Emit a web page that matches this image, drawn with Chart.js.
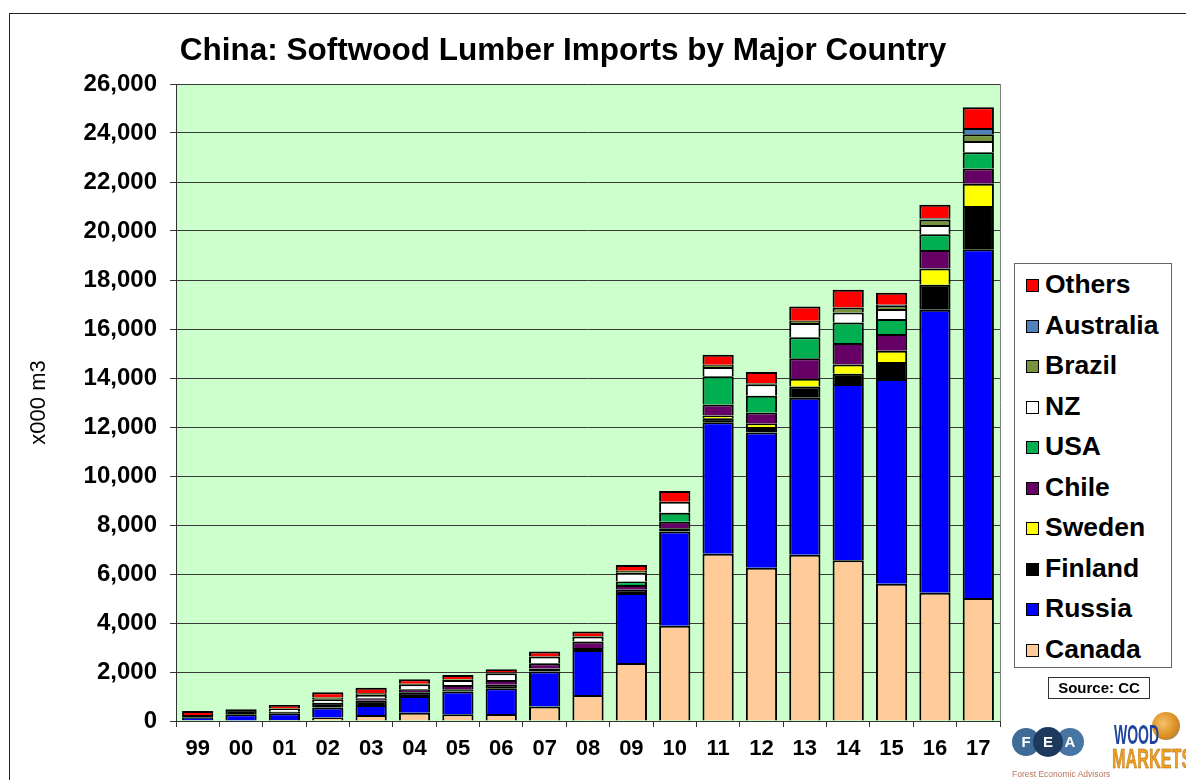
<!DOCTYPE html>
<html>
<head>
<meta charset="utf-8">
<script src="https://cdn.jsdelivr.net/npm/chart.js@4.4.0/dist/chart.umd.min.js"></script>
<style>
    body { margin: 0; background: #fff; font-family: "Liberation Sans", Arial, sans-serif; }
    #contenedor { position: relative; width: 1186px; height: 780px; overflow: hidden; }
    #marco { position: absolute; left: 9px; top: 13px; right: -10px; bottom: -10px; border-left: 1px solid #222; border-top: 1px solid #222; }
    #GraficoImportaciones { position: absolute; left: 0; top: 0; }
    #titulo { position: absolute; left: 0; top: 31px; width: 1126px; text-align: center; font-weight: bold; font-size: 31.5px; color: #000; }
    #leyenda { position: absolute; left: 1014px; top: 263px; width: 158px; height: 405px; border: 1px solid #666; background: #fff; box-sizing: border-box; }
    .item { height: 40.56px; line-height: 40.56px; white-space: nowrap; font-weight: bold; font-size: 26.5px; }
    .cuadro { display: inline-block; width: 11px; height: 11px; border: 1px solid #000; margin-left: 11px; margin-right: 6px; vertical-align: 1px; }
    #fuente { position: absolute; left: 1048px; top: 677px; width: 102px; height: 22px; border: 1px solid #333; box-sizing: border-box; text-align: center; line-height: 20px; font-weight: bold; font-size: 15px; }
    .circulo { position: absolute; width: 28px; height: 28px; border-radius: 50%; color: #fff; font-weight: bold; font-size: 15px; text-align: center; line-height: 28px; }
    #fea { position: absolute; left: 1012px; top: 769px; font-size: 8.5px; color: #b8735a; white-space: nowrap; }
    #globo { position: absolute; left: 1152px; top: 712px; width: 28px; height: 28px; border-radius: 50%; background: radial-gradient(circle at 40% 40%, #f6c26a, #d98a1c 60%, #5a7fb5); }
    #wood { position: absolute; left: 1114px; top: 719px; font-weight: bold; font-size: 28px; color: #1f45a0; transform: scaleX(0.5); transform-origin: left; }
    #markets { position: absolute; left: 1112px; top: 743px; font-weight: bold; font-size: 28px; color: #f0a020; transform: scaleX(0.58); transform-origin: left; -webkit-text-stroke: 0.5px #a0600a; }
</style>
</head>
<body>
<div id="contenedor">
    <div id="marco"></div>
    <canvas id="GraficoImportaciones" width="1186" height="780"></canvas>
    <div id="titulo">China: Softwood Lumber Imports by Major Country</div>
    <div id="leyenda"></div>
    <div id="fuente">Source: CC</div>
    <div class="circulo" style="left:1012px;top:728px;background:#3f6b98;">F</div>
    <div class="circulo" style="left:1056px;top:728px;background:#4776a4;">A</div>
    <div class="circulo" style="left:1033px;top:727px;width:30px;height:30px;line-height:30px;background:#1d3a5e;">E</div>
    <div id="fea">Forest Economic Advisors</div>
    <div id="globo"></div>
    <div id="wood">WOOD</div>
    <div id="markets">MARKETS</div>
</div>

<script>
// miles de m3 por año y país de origen
let anios = ["99", "00", "01", "02", "03", "04", "05", "06", "07", "08", "09", "10", "11", "12", "13", "14", "15", "16", "17"];

let canada    = [30, 20, 40, 140, 245, 340, 275, 290, 590, 1065, 2370, 3890, 6830, 6260, 6790, 6560, 5600, 5235, 5020];
let rusia     = [120, 260, 275, 410, 410, 680, 925, 1045, 1430, 1835, 2850, 3840, 5360, 5520, 6400, 7200, 8360, 11555, 14240];
let finlandia = [100, 200, 60, 200, 170, 150, 100, 140, 120, 80, 135, 135, 165, 220, 460, 410, 690, 1020, 1760];
let suecia    = [0, 0, 0, 0, 0, 0, 0, 0, 0, 0, 0, 0, 110, 135, 315, 380, 460, 660, 905];
let chile     = [0, 0, 0, 0, 100, 125, 170, 200, 220, 260, 200, 270, 450, 460, 840, 880, 690, 755, 625];
let eeuu      = [0, 0, 0, 0, 0, 0, 0, 0, 0, 0, 135, 365, 1155, 680, 855, 840, 610, 640, 660];
let nz        = [0, 0, 140, 135, 136, 200, 205, 270, 270, 205, 365, 450, 380, 475, 587, 408, 410, 380, 460];
let brasil    = [0, 0, 0, 70, 70, 30, 30, 30, 0, 25, 80, 0, 90, 40, 93, 204, 120, 220, 280];
let australia = [0, 0, 0, 0, 0, 0, 0, 0, 0, 0, 0, 0, 0, 0, 0, 0, 45, 60, 250];
let otros     = [160, 0, 140, 220, 231, 175, 175, 135, 205, 178, 230, 435, 408, 450, 583, 717, 495, 545, 855];

let series = [
    { label: "Canada", data: canada, color: "#FFCC99" },
    { label: "Russia", data: rusia, color: "#0000FF" },
    { label: "Finland", data: finlandia, color: "#000000" },
    { label: "Sweden", data: suecia, color: "#FFFF00" },
    { label: "Chile", data: chile, color: "#660066" },
    { label: "USA", data: eeuu, color: "#00B050" },
    { label: "NZ", data: nz, color: "#FFFFFF" },
    { label: "Brazil", data: brasil, color: "#77933C" },
    { label: "Australia", data: australia, color: "#4F81BD" },
    { label: "Others", data: otros, color: "#FF0000" }
];

let fuenteEjes = "'Liberation Sans', Arial, sans-serif";

// fondo verde del area de trazado y borde derecho
const fondoArea = {
    id: 'fondoArea',
    beforeDraw(chart) {
        const { ctx, chartArea } = chart;
        ctx.save();
        ctx.fillStyle = '#CCFFCC';
        ctx.fillRect(chartArea.left, chartArea.top, chartArea.right - chartArea.left, chartArea.bottom - chartArea.top);
        ctx.restore();
    },
    beforeDatasetsDraw(chart) {
        const { ctx, chartArea } = chart;
        ctx.save();
        ctx.strokeStyle = '#808080';
        ctx.lineWidth = 1;
        ctx.beginPath();
        ctx.moveTo(chartArea.right + 0.5, chartArea.top);
        ctx.lineTo(chartArea.right + 0.5, chartArea.bottom);
        ctx.stroke();
        ctx.restore();
    }
};

const ctx = document.getElementById('GraficoImportaciones');
let graficoImportaciones = new Chart(ctx, {
    type: 'bar',
    data: {
        labels: anios,
        datasets: series.map(s => ({
            label: s.label,
            data: s.data,
            backgroundColor: s.color,
            borderColor: '#000000',
            borderWidth: 2,
            barPercentage: 0.72,
            categoryPercentage: 1
        }))
    },
    options: {
        responsive: false,
        animation: false,
        devicePixelRatio: 1,
        layout: { padding: { top: 84, right: 186, bottom: 0, left: 0 } },
        plugins: {
            legend: { display: false },
            tooltip: { enabled: false }
        },
        scales: {
            x: {
                stacked: true,
                grid: { offset: true, drawOnChartArea: false, tickLength: 6, color: '#333' },
                border: { color: '#333' },
                ticks: { color: '#000', padding: 9, font: { family: fuenteEjes, size: 22, weight: 'bold' } },
                afterFit(escala) { escala.height = 59; }
            },
            y: {
                stacked: true,
                min: 0,
                max: 26000,
                grid: { color: '#383838', tickLength: 6 },
                border: { color: '#333' },
                ticks: {
                    stepSize: 2000,
                    color: '#000',
                    padding: 13,
                    font: { family: fuenteEjes, size: 24, weight: 'bold' },
                    callback: valor => valor.toLocaleString('en-US')
                },
                title: {
                    display: true,
                    text: 'x000 m3',
                    color: '#000',
                    padding: { top: 26 },
                    font: { family: fuenteEjes, size: 22 }
                },
                afterFit(escala) { escala.width = 176; }
            }
        }
    },
    plugins: [fondoArea]
});

// leyenda en orden inverso (Others arriba)
let leyenda = document.getElementById('leyenda');
graficoImportaciones.data.datasets.slice().reverse().forEach(function (dataset) {
    let item = document.createElement('div');
    item.className = 'item';
    item.innerHTML = '<span class="cuadro" style="background:' + dataset.backgroundColor + '"></span>' + dataset.label;
    leyenda.appendChild(item);
});
</script>
</body>
</html>
